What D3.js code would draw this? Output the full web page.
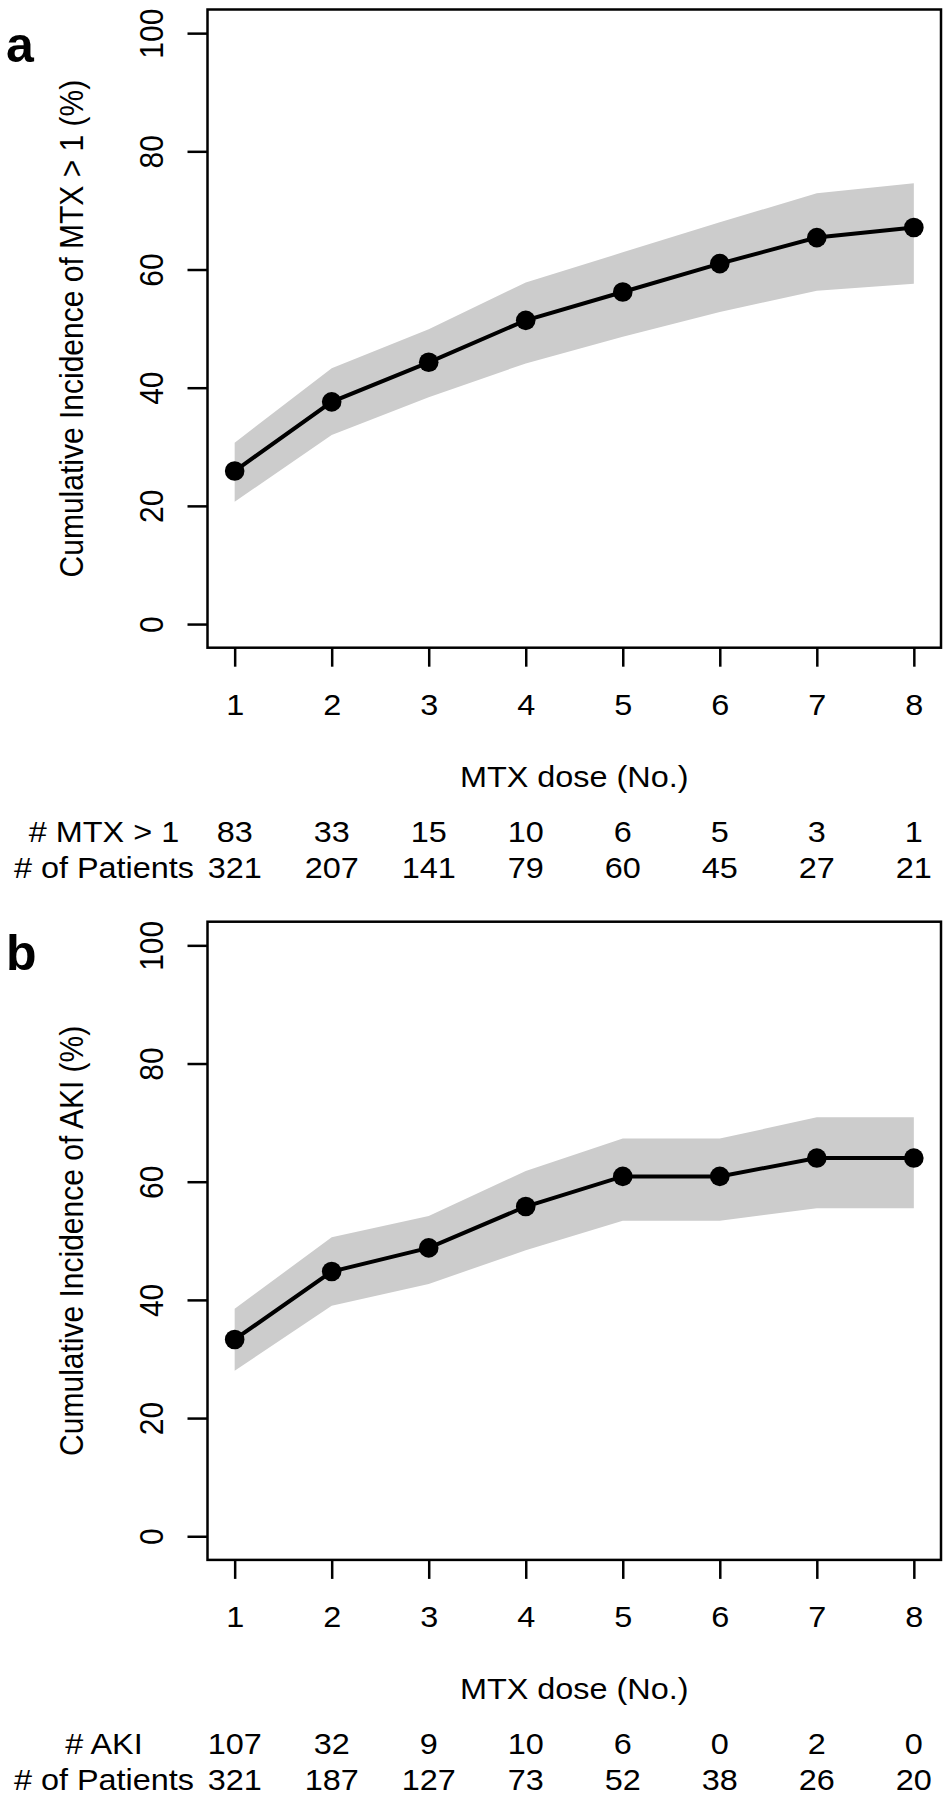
<!DOCTYPE html>
<html><head><meta charset="utf-8">
<script src="https://cdn.jsdelivr.net/npm/d3@7"></script>
<style>
body{margin:0;background:#fff;}
svg text{font-family:"Liberation Sans",Arial,Helvetica,sans-serif;fill:#000;}
</style></head>
<body><div id="chart"></div>
<script>
const doses = [1,2,3,4,5,6,7,8];
const yTicks = [0,20,40,60,80,100];

const mtxEst   = [25.9, 37.6, 44.3, 51.4, 56.2, 61.0, 65.4, 67.1];
const mtxUpper = [30.7, 43.3, 49.9, 57.8, 62.9, 68.0, 72.9, 74.6];
const mtxLower = [20.7, 32.0, 38.4, 44.1, 48.6, 52.8, 56.4, 57.6];
const mtxEvents   = [83, 33, 15, 10, 6, 5, 3, 1];
const mtxPatients = [321, 207, 141, 79, 60, 45, 27, 21];

const akiEst   = [33.3, 44.8, 48.8, 55.8, 60.9, 60.9, 64.0, 64.0];
const akiUpper = [38.5, 50.6, 54.2, 61.8, 67.3, 67.3, 70.9, 70.9];
const akiLower = [28.0, 39.0, 42.7, 48.4, 53.4, 53.4, 55.5, 55.5];
const akiEvents   = [107, 32, 9, 10, 6, 0, 2, 0];
const akiPatients = [321, 187, 127, 73, 52, 38, 26, 20];

const W = 952, H = 1800;
const svg = d3.select("#chart").append("svg").attr("width", W).attr("height", H);
const FS = 30, SX = 1.08;

function htext(g, x, y, str){
  return g.append("text").attr("transform",`translate(${x},${y}) scale(${SX},1)`)
    .attr("text-anchor","middle").style("font-size",FS+"px").text(str);
}

function panel(o){
  const top = o.top, bottom = o.top + 638.2, left = 207.5, right = 941;
  const x = d3.scaleLinear().domain([0.72, 8.28]).range([left, right]);
  const y = d3.scaleLinear().domain([-4, 104]).range([bottom, top]);
  const g = svg.append("g");

  const area = d3.area().x((d,i)=>x(doses[i])).y0((d,i)=>y(o.lower[i])).y1((d,i)=>y(o.upper[i]));
  g.append("path").datum(o.est).attr("d", area).attr("fill", "#cccccc");
  const line = d3.line().x((d,i)=>x(doses[i])).y(d=>y(d));
  g.append("path").datum(o.est).attr("d", line).attr("fill","none").attr("stroke","#000").attr("stroke-width",4);
  g.selectAll("circle.pt").data(o.est).join("circle").attr("class","pt")
    .attr("cx",(d,i)=>x(doses[i])).attr("cy",d=>y(d)).attr("r",9.8).attr("fill","#000");

  g.append("rect").attr("x",left).attr("y",top).attr("width",right-left).attr("height",bottom-top)
    .attr("fill","none").attr("stroke","#000").attr("stroke-width",2.5);

  const ya = g.append("g").attr("transform",`translate(${left},0)`)
    .call(d3.axisLeft(y).tickValues(yTicks).tickSize(20).tickFormat(d3.format("d")));
  ya.select(".domain").remove();
  ya.selectAll(".tick line").attr("stroke","#000").attr("stroke-width",2.5);
  ya.selectAll(".tick text").attr("x",null).attr("dy",null)
    .attr("transform",`translate(-45,0) rotate(-90) scale(1,${SX})`)
    .attr("text-anchor","middle").style("font-size",FS+"px");

  const xa = g.append("g").attr("transform",`translate(0,${bottom})`)
    .call(d3.axisBottom(x).tickValues(doses).tickSize(19).tickFormat(d3.format("d")));
  xa.select(".domain").remove();
  xa.selectAll(".tick line").attr("stroke","#000").attr("stroke-width",2.5);
  xa.selectAll(".tick text").attr("y",null).attr("dy",null)
    .attr("transform",`translate(0,67) scale(${SX},1)`).style("font-size",FS+"px");

  g.append("text").attr("transform",`translate(83,${(top+bottom)/2}) rotate(-90) scale(1,${SX})`)
    .attr("text-anchor","middle").style("font-size",FS+"px").text(o.ylab);
  htext(g, (left+right)/2, bottom+139, "MTX dose (No.)");

  g.append("text").attr("x",6).attr("y",top+o.letterDy).style("font-size","50px").style("font-weight","bold").text(o.letter);

  const rows = [[o.evLabel, o.events, bottom+194], ["# of Patients", o.patients, bottom+230]];
  rows.forEach(r=>{
    htext(g, 104, r[2], r[0]);
    r[1].forEach((d,i)=>htext(g, x(doses[i]), r[2], d));
  });
}

panel({top:9.5, est:mtxEst, upper:mtxUpper, lower:mtxLower, events:mtxEvents, patients:mtxPatients,
  ylab:"Cumulative Incidence of MTX > 1 (%)", letter:"a", evLabel:"# MTX > 1", letterDy:52});
panel({top:921.7, est:akiEst, upper:akiUpper, lower:akiLower, events:akiEvents, patients:akiPatients,
  ylab:"Cumulative Incidence of AKI (%)", letter:"b", letterDy:48, evLabel:"# AKI"});
</script></body></html>
